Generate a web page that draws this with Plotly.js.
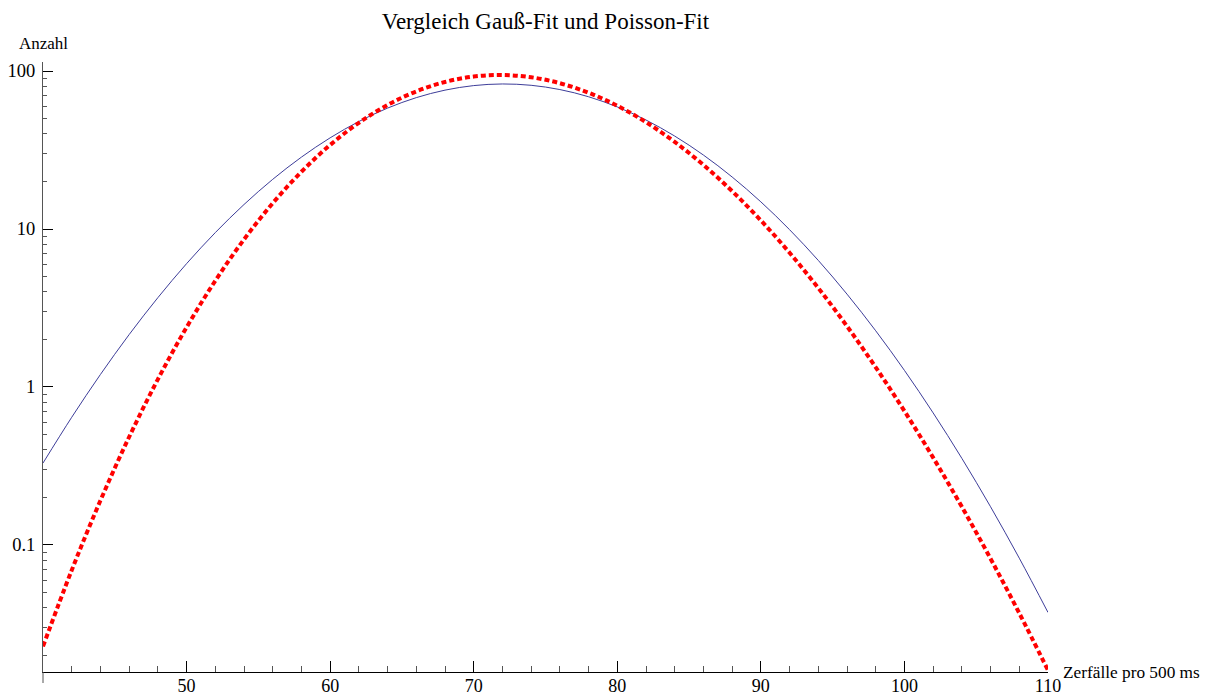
<!DOCTYPE html>
<html>
<head>
<meta charset="utf-8">
<script src="https://cdn.plot.ly/plotly-3.0.1.min.js"></script>
<style>
  html, body { margin: 0; padding: 0; background: #fff; }
  #chart { width: 1211px; height: 695px; }
</style>
</head>
<body>
<div id="chart"></div>
<script>
// x values (Zerfälle pro 500 ms)
const counts = [40, 42, 44, 46, 48, 50, 52, 54, 56, 58, 60, 62, 64, 66, 68, 70, 72, 74,
                76, 78, 80, 82, 84, 86, 88, 90, 92, 94, 96, 98, 100, 102, 104, 106, 108, 110];

// Gauß-Fit (blue, solid)
const gaussFit = [0.330, 0.643, 1.200, 2.146, 3.676, 6.035, 9.486, 14.29, 20.62, 28.51, 37.76, 47.91,
                  58.24, 67.83, 75.67, 80.85, 82.79, 81.21, 76.31, 68.71, 59.25, 48.96, 38.74, 29.38,
                  21.34, 14.85, 9.904, 6.327, 3.870, 2.269, 1.274, 0.6855, 0.3533, 0.1745, 0.0825, 0.0374];

// Poisson-Fit (red, dashed)
const poissonFit = [0.0228, 0.0692, 0.1911, 0.4825, 1.118, 2.385, 4.702, 8.587, 14.57, 23.04, 34.03, 47.03,
                    60.97, 74.30, 85.24, 92.25, 94.34, 91.28, 83.71, 72.86, 60.26, 47.43, 35.56, 25.43,
                    17.36, 11.33, 7.074, 4.230, 2.425, 1.333, 0.7039, 0.3572, 0.1743, 0.0819, 0.0370, 0.0161];

const xMajorTicks = [50, 60, 70, 80, 90, 100, 110];
const yMajorTicks = [0.1, 1, 10, 100];
const yTickText = ['0.1', '1', '10', '100'];

const chartTitle = 'Vergleich Gauß-Fit und Poisson-Fit';
const xLabel = 'Zerfälle pro 500 ms';
const yLabel = 'Anzahl';

const serif = 'Liberation Serif, Times New Roman, serif';

const traces = [
  {
    x: counts, y: gaussFit, type: 'scatter', mode: 'lines', name: 'Gauß-Fit',
    line: { color: 'rgb(61,61,153)', width: 1, shape: 'spline' },
    cliponaxis: true
  },
  {
    x: counts, y: poissonFit, type: 'scatter', mode: 'lines', name: 'Poisson-Fit',
    line: { color: 'rgb(255,0,0)', width: 4, dash: '5px,3px', shape: 'spline' },
    cliponaxis: false
  }
];

const layout = {
  width: 1211, height: 695,
  margin: { l: 43, r: 163, t: 62, b: 23 },
  paper_bgcolor: '#fff', plot_bgcolor: '#fff',
  showlegend: false,
  font: { family: serif, size: 18, color: '#000' },
  title: {
    text: chartTitle,
    font: { family: serif, size: 23, color: '#000' },
    x: 0.5, xref: 'paper', xanchor: 'center',
    y: 1 - 21 / 695, yref: 'container', yanchor: 'middle'
  },
  xaxis: {
    range: [40, 110],
    tickmode: 'array', tickvals: xMajorTicks, ticktext: xMajorTicks.map(String),
    ticks: 'inside', ticklen: 11, tickwidth: 1, tickcolor: '#000',
    minor: { ticks: 'inside', ticklen: 6, tickwidth: 1, tickcolor: '#555', tick0: 40, dtick: 2 },
    showline: true, linecolor: '#000', linewidth: 1,
    showgrid: false, zeroline: false,
    tickfont: { family: serif, size: 18, color: '#000' },
    ticklabelstandoff: -3
  },
  yaxis: {
    type: 'log',
    range: [-1.804, 2.057],
    tickmode: 'array', tickvals: yMajorTicks, ticktext: yTickText,
    ticks: 'inside', ticklen: 10, tickwidth: 1, tickcolor: '#000',
    minor: { ticks: 'inside', ticklen: 4, tickwidth: 1, tickcolor: '#555', dtick: 'D1' },
    showline: true, linecolor: '#555', linewidth: 1,
    showgrid: false, zeroline: false,
    tickfont: { family: serif, size: 18.5, color: '#000' },
    ticklabelstandoff: 3
  },
  annotations: [
    {
      text: yLabel, xref: 'paper', yref: 'paper', x: 0, y: 1,
      xanchor: 'center', yanchor: 'middle', yshift: 19, showarrow: false,
      font: { family: serif, size: 17, color: '#000' }
    },
    {
      text: xLabel, xref: 'paper', yref: 'paper', x: 1, y: 0,
      xanchor: 'left', yanchor: 'middle', xshift: 13, showarrow: false,
      font: { family: serif, size: 17.3, color: '#000' }
    }
  ],
  shapes: [
    {
      type: 'line', xref: 'paper', yref: 'paper', x0: 0, x1: 0,
      ysizemode: 'pixel', yanchor: 0, y0: 0, y1: -11,
      line: { color: '#555', width: 1 }
    }
  ]
};

Plotly.newPlot('chart', traces, layout, { displayModeBar: false, staticPlot: true });
</script>
</body>
</html>
